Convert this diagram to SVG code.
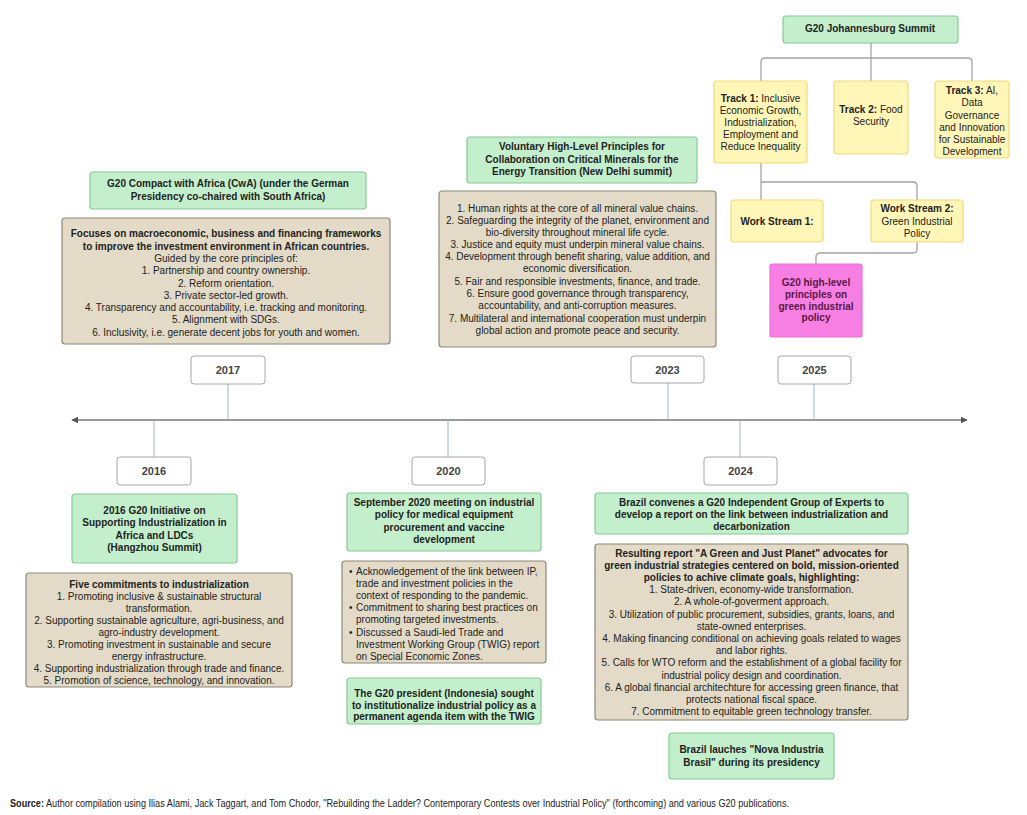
<svg xmlns="http://www.w3.org/2000/svg" width="1027" height="815" viewBox="0 0 1027 815">
<defs>
<marker id="arr" viewBox="0 0 10 10" refX="9" refY="5" markerWidth="7" markerHeight="7" orient="auto-start-reverse" markerUnits="userSpaceOnUse"><path d="M0,0 L10,5 L0,10 z" fill="#555"/></marker>
<style>
text{font-family:"Liberation Sans",Arial,sans-serif;font-size:10px;fill:#222}
.c{text-anchor:middle}
.b{font-weight:bold}
.green{fill:#c3efcc;stroke:#86c896;stroke-width:1.2}
.tan{fill:#e3dbc7;stroke:#8c877a;stroke-width:1.2}
.yel{fill:#fff6b8;stroke:#f0da7a;stroke-width:1.2}
.pink{fill:#f77fe3;stroke:#ea70d6;stroke-width:1.2}
.year{fill:#fff;stroke:#a8a8a8;stroke-width:1}
.yt{font-weight:bold;font-size:11px;fill:#444;text-anchor:middle}
.conn{fill:none;stroke:#a3a3a3;stroke-width:1.3}
.tick{fill:none;stroke:#9db3c8;stroke-width:1}
.pt{fill:#5a1745;font-weight:bold}
</style>
</defs>
<rect width="1027" height="815" fill="#fff"/>

<g id="connectors">
<line x1="72" y1="420" x2="967" y2="420" stroke="#777" stroke-width="1.6" marker-start="url(#arr)" marker-end="url(#arr)"/>
<line class="tick" x1="228" y1="384" x2="228" y2="420"/>
<line class="tick" x1="668" y1="383" x2="668" y2="420"/>
<line class="tick" x1="814" y1="384" x2="814" y2="420"/>
<line class="tick" x1="154" y1="420" x2="154" y2="457"/>
<line class="tick" x1="448" y1="420" x2="448" y2="457"/>
<line class="tick" x1="740" y1="420" x2="740" y2="457"/>
<path class="conn" d="M871,43 V58"/>
<path class="conn" d="M761,81 V62 Q761,58 765,58 H968 Q972,58 972,62 V81"/>
<path class="conn" d="M871,58 V81"/>
<path class="conn" d="M761,163 V200"/>
<path class="conn" d="M761,182 H913 Q917,182 917,186 V200"/>
<path class="conn" d="M917,242 V249 Q917,253 913,253 H820 Q816,253 816,257 V264"/>
</g>

<g id="n-johannesburg">
<rect class="green" x="783" y="16" width="175" height="27" rx="3"/>
<text class="c b" x="870" y="32" font-size="11">G20  Johannesburg Summit</text>
</g>
<g id="n-track1">
<rect class="yel" x="714" y="81" width="93" height="82" rx="3"/>
<text class="c" x="760.5" y="101.5"><tspan class="b">Track 1:</tspan> Inclusive</text>
<text class="c" x="760.5" y="113.5">Economic Growth,</text>
<text class="c" x="760.5" y="125.5">Industrialization,</text>
<text class="c" x="760.5" y="137.5">Employment and</text>
<text class="c" x="760.5" y="149.5">Reduce Inequality</text>
</g>
<g id="n-track2">
<rect class="yel" x="834" y="81" width="74" height="73" rx="3"/>
<text class="c" x="871" y="113"><tspan class="b">Track 2:</tspan> Food</text>
<text class="c" x="871" y="125">Security</text>
</g>
<g id="n-track3">
<rect class="yel" x="935" y="81" width="74" height="77" rx="3"/>
<text class="c" x="972" y="94"><tspan class="b">Track 3:</tspan> AI,</text>
<text class="c" x="972" y="106">Data</text>
<text class="c" x="972" y="118.5">Governance</text>
<text class="c" x="972" y="130.5">and Innovation</text>
<text class="c" x="972" y="143">for Sustainable</text>
<text class="c" x="972" y="155">Development</text>
</g>
<g id="n-ws1">
<rect class="yel" x="731" y="200" width="92" height="42" rx="3"/>
<text class="c b" x="777" y="224.5">Work Stream 1:</text>
</g>
<g id="n-ws2">
<rect class="yel" x="871" y="200" width="92" height="42" rx="3"/>
<text class="c b" x="917" y="211.5">Work Stream 2:</text>
<text class="c" x="917" y="224.5">Green Industrial</text>
<text class="c" x="917" y="236.5">Policy</text>
</g>
<g id="n-principles-gip">
<rect class="pink" x="770" y="264" width="92" height="73" rx="2"/>
<text class="c pt" x="816" y="285.5">G20 high-level</text>
<text class="c pt" x="816" y="297.5">principles on</text>
<text class="c pt" x="816" y="309.5">green industrial</text>
<text class="c pt" x="816" y="321">policy</text>
</g>

<g id="n-2017-cwa">
<rect class="green" x="90" y="172" width="276" height="37" rx="3"/>
<text class="c b" x="228" y="187">G20 Compact with Africa (CwA) (under the German</text>
<text class="c b" x="228" y="200">Presidency co-chaired with South Africa)</text>
</g>
<g id="n-2017-detail">
<rect class="tan" x="62" y="218" width="328" height="126" rx="3"/>
<text class="c b" x="226" y="237">Focuses on macroeconomic, business and financing frameworks</text>
<text class="c b" x="226" y="249.5">to improve the investment environment in African countries.</text>
<text class="c" x="226" y="262">Guided by the core principles of:</text>
<text class="c" x="226" y="274">1. Partnership and country ownership.</text>
<text class="c" x="226" y="286.5">2. Reform orientation.</text>
<text class="c" x="226" y="298.5">3. Private sector-led growth.</text>
<text class="c" x="226" y="311">4. Transparency and accountability, i.e. tracking and monitoring.</text>
<text class="c" x="226" y="323">5. Alignment with SDGs.</text>
<text class="c" x="226" y="335.5">6. Inclusivity, i.e. generate decent jobs for youth and women.</text>
</g>

<g id="n-2023-minerals">
<rect class="green" x="467" y="137" width="230" height="46" rx="3"/>
<text class="c b" x="582" y="150">Voluntary High-Level Principles for</text>
<text class="c b" x="582" y="162.5">Collaboration on Critical Minerals for the</text>
<text class="c b" x="582" y="175">Energy Transition (New Delhi summit)</text>
</g>
<g id="n-2023-detail">
<rect class="tan" x="439" y="191" width="277" height="156" rx="3"/>
<text class="c" x="577.5" y="211.5">1. Human rights at the core of all mineral value chains.</text>
<text class="c" x="577.5" y="223.5">2. Safeguarding the integrity of the planet, environment and</text>
<text class="c" x="577.5" y="235.5">bio-diversity throughout mineral life cycle.</text>
<text class="c" x="577.5" y="247.5">3. Justice and equity must underpin mineral value chains.</text>
<text class="c" x="577.5" y="259.5">4. Development through benefit sharing, value addition, and</text>
<text class="c" x="577.5" y="271.5">economic diversification.</text>
<text class="c" x="577.5" y="284.5">5. Fair and responsible investments, finance, and trade.</text>
<text class="c" x="577.5" y="296.5">6. Ensure good governance through transparency,</text>
<text class="c" x="577.5" y="308.5">accountability, and anti-corruption measures.</text>
<text class="c" x="577.5" y="321.5">7.  Multilateral and international cooperation must underpin</text>
<text class="c" x="577.5" y="334">global action and promote peace and security.</text>
</g>

<g id="y2017"><rect class="year" x="191" y="356" width="74" height="28" rx="3"/><text class="yt" x="228" y="374">2017</text></g>
<g id="y2023"><rect class="year" x="631" y="356" width="73" height="27" rx="3"/><text class="yt" x="667.5" y="373.5">2023</text></g>
<g id="y2025"><rect class="year" x="778" y="356" width="73" height="28" rx="3"/><text class="yt" x="814.5" y="374">2025</text></g>
<g id="y2016"><rect class="year" x="117" y="457" width="74" height="28" rx="3"/><text class="yt" x="154" y="475">2016</text></g>
<g id="y2020"><rect class="year" x="412" y="457" width="73" height="28" rx="3"/><text class="yt" x="448.5" y="475">2020</text></g>
<g id="y2024"><rect class="year" x="704" y="457" width="73" height="28" rx="3"/><text class="yt" x="740.5" y="475">2024</text></g>

<g id="n-2016-initiative">
<rect class="green" x="72" y="494" width="165" height="69" rx="3"/>
<text class="c b" x="154.5" y="514">2016 G20 Initiative on</text>
<text class="c b" x="154.5" y="526">Supporting Industrialization in</text>
<text class="c b" x="154.5" y="538.5">Africa and LDCs</text>
<text class="c b" x="154.5" y="551">(Hangzhou Summit)</text>
</g>
<g id="n-2016-detail">
<rect class="tan" x="26" y="573" width="266" height="114" rx="3"/>
<text class="c b" x="159" y="587.5">Five commitments to industrialization</text>
<text class="c" x="159" y="599.5">1. Promoting inclusive &amp; sustainable structural</text>
<text class="c" x="159" y="611.5">transformation.</text>
<text class="c" x="159" y="623.5">2. Supporting sustainable agriculture, agri-business, and</text>
<text class="c" x="159" y="635.5">agro-industry development.</text>
<text class="c" x="159" y="647.5">3. Promoting investment in sustainable and secure</text>
<text class="c" x="159" y="660">energy infrastructure.</text>
<text class="c" x="159" y="672">4. Supporting industrialization through trade and finance.</text>
<text class="c" x="159" y="684">5. Promotion of science, technology, and innovation.</text>
</g>

<g id="n-2020-meeting">
<rect class="green" x="347" y="493" width="194" height="58" rx="3"/>
<text class="c b" x="444" y="505.5">September 2020 meeting on industrial</text>
<text class="c b" x="444" y="518">policy for medical equipment</text>
<text class="c b" x="444" y="530.5">procurement and vaccine</text>
<text class="c b" x="444" y="542.5">development</text>
</g>
<g id="n-2020-detail">
<rect class="tan" x="342" y="561" width="204" height="102" rx="3"/>
<text x="349" y="574.5">•</text><text x="356" y="574.5">Acknowledgement of the link between IP,</text>
<text x="356" y="586.5">trade and investment policies in the</text>
<text x="356" y="599">context of responding to the pandemic.</text>
<text x="349" y="611">•</text><text x="356" y="611">Commitment to sharing best practices on</text>
<text x="356" y="623">promoting targeted investments.</text>
<text x="349" y="635.5">•</text><text x="356" y="635.5">Discussed a Saudi-led Trade and</text>
<text x="356" y="647.5">Investment Working Group (TWIG) report</text>
<text x="356" y="659.5">on Special Economic Zones.</text>
</g>
<g id="n-2020-indonesia">
<rect class="green" x="347" y="678" width="194" height="46" rx="3"/>
<text class="c b" x="444" y="697">The G20 president (Indonesia) sought</text>
<text class="c b" x="444" y="708.5">to institutionalize industrial policy as a</text>
<text class="c b" x="444" y="720">permanent agenda item with the TWIG</text>
</g>

<g id="n-2024-brazil">
<rect class="green" x="595" y="493" width="313" height="41" rx="3"/>
<text class="c b" x="751.5" y="505.5">Brazil convenes a G20 Independent Group of Experts to</text>
<text class="c b" x="751.5" y="517.5">develop a report on the link between industrialization and</text>
<text class="c b" x="751.5" y="530">decarbonization</text>
</g>
<g id="n-2024-detail">
<rect class="tan" x="595" y="544" width="313" height="176" rx="3"/>
<text class="c b" x="751.5" y="556.5">Resulting report "A Green and Just Planet" advocates for</text>
<text class="c b" x="751.5" y="568.7">green industrial strategies centered on bold, mission-oriented</text>
<text class="c b" x="751.5" y="580.9">policies to achive climate goals, highlighting:</text>
<text class="c" x="751.5" y="593.1">1. State-driven, economy-wide transformation.</text>
<text class="c" x="751.5" y="605.3">2. A whole-of-goverment approach.</text>
<text class="c" x="751.5" y="617.5">3. Utilization of public procurement, subsidies, grants, loans, and</text>
<text class="c" x="751.5" y="629.7">state-owned enterprises.</text>
<text class="c" x="751.5" y="641.9">4. Making financing conditional on achieving goals related to wages</text>
<text class="c" x="751.5" y="654.1">and labor rights.</text>
<text class="c" x="751.5" y="666.3">5. Calls for WTO reform and the establishment of a global facility for</text>
<text class="c" x="751.5" y="678.5">industrial policy design and coordination.</text>
<text class="c" x="751.5" y="690.7">6. A global financial architechture for accessing green finance, that</text>
<text class="c" x="751.5" y="702.9">protects national fiscal space.</text>
<text class="c" x="751.5" y="715.1">7. Commitment to equitable green technology transfer.</text>
</g>
<g id="n-2024-nova">
<rect class="green" x="669" y="733" width="165" height="46" rx="3"/>
<text class="c b" x="751.5" y="752.5">Brazil lauches "Nova Industria</text>
<text class="c b" x="751.5" y="765.5">Brasil" during its presidency</text>
</g>

<text x="10" y="807" font-size="7.5" textLength="779" lengthAdjust="spacingAndGlyphs"><tspan class="b">Source:</tspan> Author compilation using Ilias Alami, Jack Taggart, and Tom Chodor, "Rebuilding the Ladder? Contemporary Contests over Industrial Policy" (forthcoming) and various G20 publications.</text>
</svg>
